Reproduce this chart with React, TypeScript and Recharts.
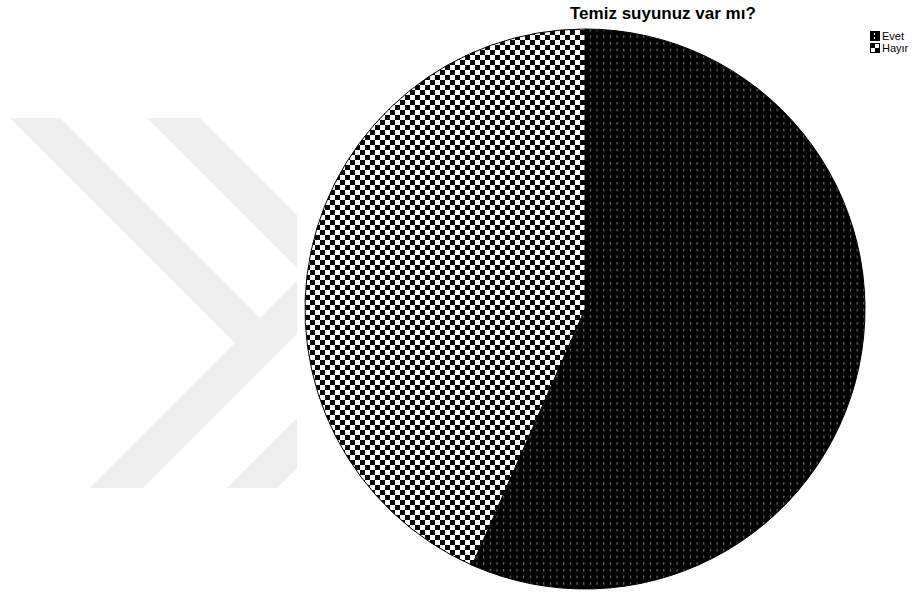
import React from "react"
import { PieChart, Pie, Cell, Legend } from "recharts"

const categories = ["Evet", "Hayır"]
const counts = [30, 23]
const chartTitle = "Temiz suyunuz var mı?"

const data = categories.map((name, i) => ({ name, value: counts[i] }))

const fills = ["url(#evetPattern)", "url(#hayirPattern)"]

function LegendBox(props: any) {
  const items = props.payload || []
  return (
    <div style={{ fontFamily: "'Liberation Sans', Arial, sans-serif", fontSize: 11, lineHeight: "12px" }}>
      {items.map((it: any, i: number) => (
        <div key={it.value} style={{ display: "flex", alignItems: "center", height: 12 }}>
          <svg width={10} height={10} style={{ marginRight: 2 }}>
            {i === 0 ? (
              <g>
                <rect x={0.5} y={0.5} width={9} height={9} fill="#000" stroke="#000" />
                <rect x={4} y={2} width={1} height={2} fill="#fff" />
                <rect x={4} y={6} width={1} height={2} fill="#fff" />
              </g>
            ) : (
              <g>
                <rect x={0.5} y={0.5} width={9} height={9} fill="#fff" stroke="#000" />
                <rect x={1} y={1} width={4} height={4} fill="#000" />
                <rect x={5} y={5} width={4} height={4} fill="#000" />
              </g>
            )}
          </svg>
          <span>{it.value}</span>
        </div>
      ))}
    </div>
  )
}

export default function App() {
  return (
    <div style={{ position: "absolute", left: 0, top: 0, width: 915, height: 597, background: "#fff" }}>
      <svg width={915} height={597} style={{ position: "absolute", left: 0, top: 0 }}>
        <defs>
          <pattern id="evetPattern" patternUnits="userSpaceOnUse" width={6.67} height={6.67}>
            <rect width={6.67} height={6.67} fill="#000" />
            <rect x={3} y={2} width={1} height={2.5} fill="#8a8a8a" />
          </pattern>
          <pattern id="hayirPattern" patternUnits="userSpaceOnUse" width={10} height={10}>
            <rect width={10} height={10} fill="#fff" />
            <rect x={0} y={0} width={5} height={5} fill="#000" />
            <rect x={5} y={5} width={5} height={5} fill="#000" />
          </pattern>
        </defs>
        {/* faint watermark behind the chart */}
        <g fill="#efefef">
          <polygon points="10,118 60,118 260,318 297,281 297,334 143,488 90,488 235,343" />
          <polygon points="147,118 200,118 297,215 297,268" />
          <polygon points="227,488 277,488 297,468 297,418" />
        </g>
        <text
          x={570}
          y={19}
          fontFamily="'Liberation Sans', Arial, sans-serif"
          fontWeight="bold"
          fontSize={17}
          fill="#000"
        >
          {chartTitle}
        </text>
      </svg>
      <div style={{ position: "absolute", left: 0, top: 0 }}>
        <PieChart width={915} height={597} margin={{ top: 0, right: 0, bottom: 0, left: 0 }}>
          <Pie
            data={data}
            dataKey="value"
            nameKey="name"
            cx={585}
            cy={309}
            outerRadius={280}
            startAngle={90}
            endAngle={-270}
            stroke="#000"
            strokeWidth={1}
            isAnimationActive={false}
          >
            {data.map((d, i) => (
              <Cell key={d.name} fill={fills[i]} />
            ))}
          </Pie>
          <Legend
            content={<LegendBox />}
            layout="vertical"
            wrapperStyle={{ position: "absolute", left: 870, top: 30, width: 45 }}
          />
        </PieChart>
      </div>
    </div>
  )
}
